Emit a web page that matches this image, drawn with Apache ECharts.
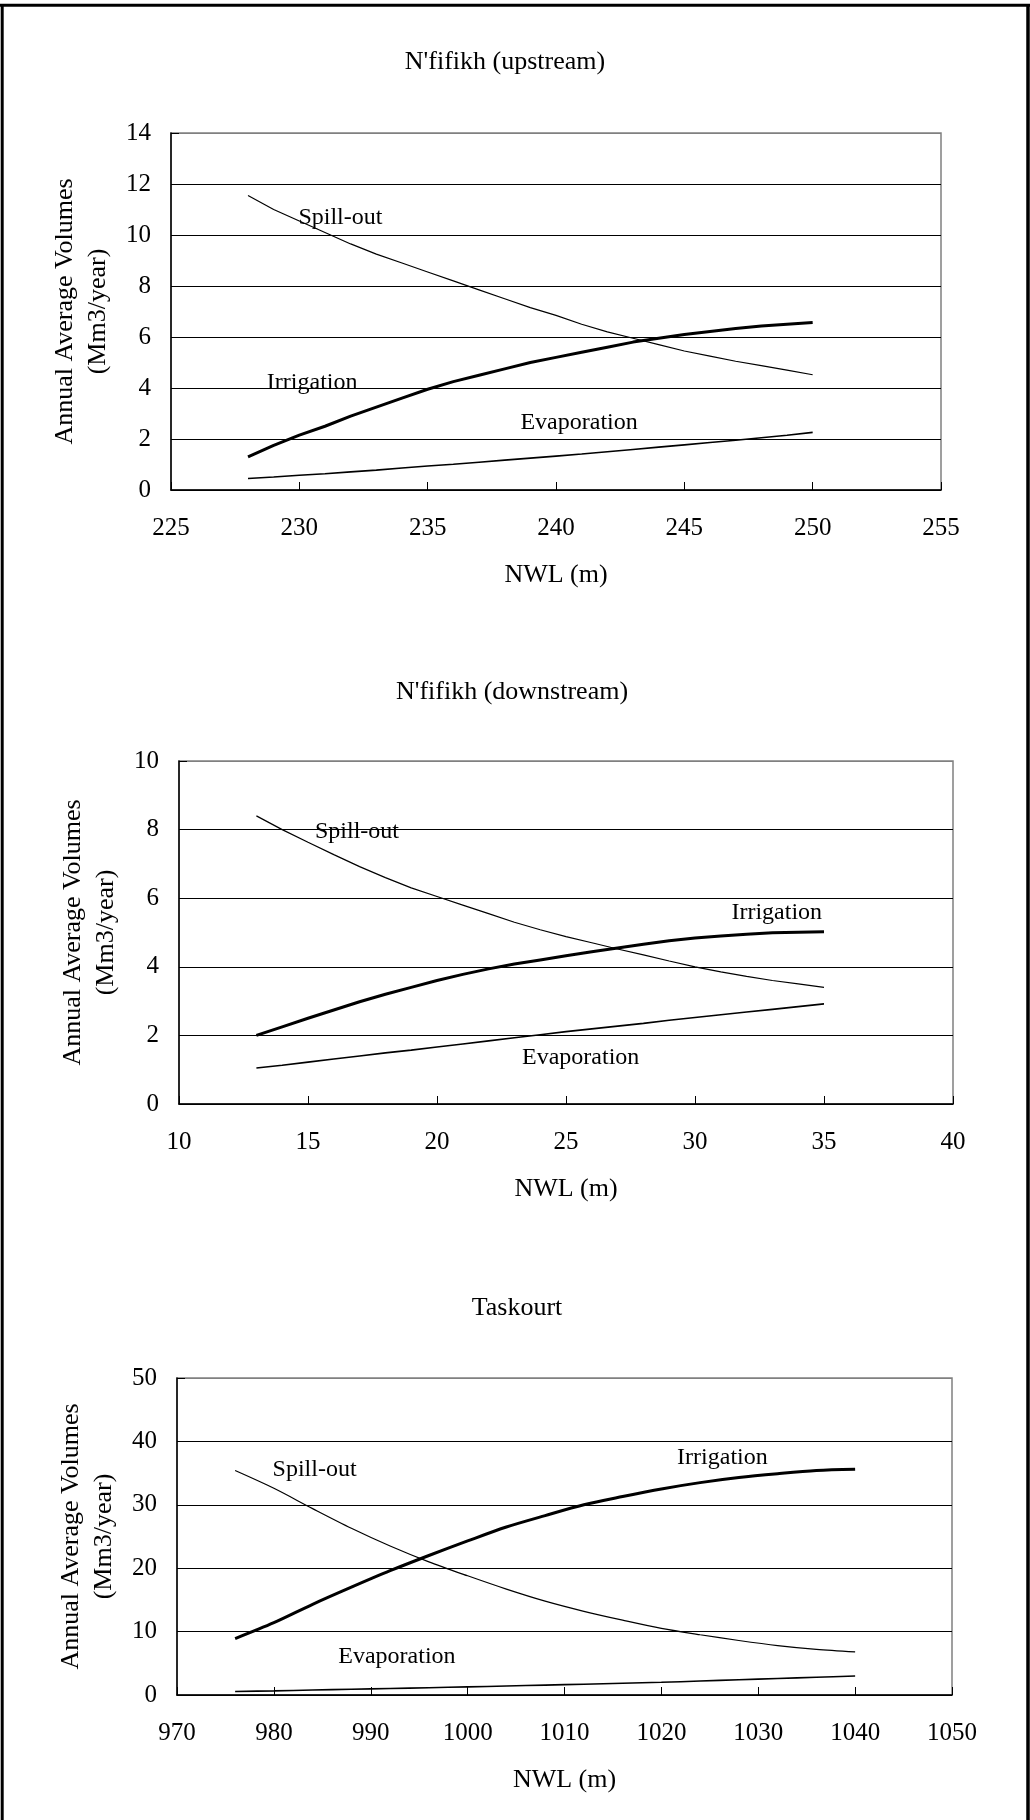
<!DOCTYPE html>
<html>
<head>
<meta charset="utf-8">
<script src="https://cdn.jsdelivr.net/npm/echarts@6/dist/echarts.min.js"></script>
<style>
html,body{margin:0;padding:0;background:#fff;}
#c{width:1030px;height:1820px;}
</style>
</head>
<body>
<div id="c"></div>
<script>
// ---------- Data ----------
const titles = ["N'fifikh (upstream)", "N'fifikh (downstream)", "Taskourt"];

// N'fifikh (upstream)
const upNWL   = [228,229,230,231,232,233,234,235,236,237,238,239,240,241,242,243,244,245,246,247,248,249,250];
const upSpill = [11.55,11.0,10.55,10.1,9.65,9.25,8.9,8.55,8.2,7.85,7.5,7.15,6.85,6.5,6.2,5.95,5.7,5.45,5.25,5.05,4.88,4.7,4.52];
const upIrr   = [1.3,1.75,2.15,2.5,2.9,3.25,3.6,3.95,4.25,4.5,4.75,5.0,5.2,5.4,5.6,5.8,5.95,6.1,6.22,6.33,6.43,6.5,6.57];
const upEvap  = [0.45,0.51,0.58,0.64,0.71,0.78,0.86,0.94,1.01,1.09,1.17,1.25,1.33,1.41,1.5,1.59,1.68,1.77,1.86,1.95,2.05,2.15,2.26];

// N'fifikh (downstream)
const dnNWL   = [13,14,15,16,17,18,19,20,21,22,23,24,25,26,27,28,29,30,31,32,33,34,35];
const dnSpill = [8.4,8.0,7.63,7.27,6.92,6.6,6.3,6.05,5.8,5.55,5.3,5.08,4.88,4.7,4.52,4.35,4.17,4.0,3.85,3.72,3.6,3.5,3.4];
const dnIrr   = [2.0,2.25,2.5,2.74,2.98,3.2,3.4,3.6,3.78,3.94,4.08,4.2,4.32,4.44,4.55,4.66,4.76,4.84,4.9,4.95,4.99,5.01,5.02];
const dnEvap  = [1.05,1.13,1.22,1.31,1.4,1.49,1.57,1.66,1.75,1.84,1.93,2.02,2.11,2.19,2.27,2.35,2.44,2.52,2.6,2.68,2.76,2.84,2.92];

// Taskourt
const tkNWL   = [976,980,984,988,992,996,1000,1004,1008,1012,1016,1020,1024,1028,1032,1036,1040];
const tkSpill = [35.4,32.6,29.4,26.3,23.5,21.0,18.8,16.7,14.8,13.2,11.8,10.5,9.5,8.6,7.8,7.2,6.8];
const tkIrr   = [8.9,11.4,14.3,17.0,19.6,22.0,24.3,26.5,28.3,30.0,31.3,32.5,33.5,34.3,34.9,35.4,35.6];
const tkEvap  = [0.55,0.65,0.78,0.9,1.02,1.15,1.28,1.42,1.56,1.7,1.85,2.0,2.2,2.4,2.6,2.8,3.0];

// Axis ranges / ticks
const xMin = [225, 10, 970], xMax = [255, 40, 1050], xStep = [5, 5, 10];
const yMin = [0, 0, 0],      yMax = [14, 10, 50],    yStep = [2, 2, 10];

// In-chart labels [NWL, volume, text]
const upLabels = [[231.6,10.67,'Spill-out'],[230.5,4.2,'Irrigation'],[240.9,2.63,'Evaporation']];
const dnLabels = [[16.9,7.93,'Spill-out'],[33.17,5.58,'Irrigation'],[25.57,1.35,'Evaporation']];
const tkLabels = [[984.2,35.6,'Spill-out'],[1026.3,37.5,'Irrigation'],[992.7,6.1,'Evaporation']];

// ---------- Layout ----------
const FONT = '"Liberation Serif", "Times New Roman", serif';
const grids = [
  {left:171, top:133, width:770, height:357},
  {left:179, top:761, width:774, height:343},
  {left:177, top:1378, width:775, height:317}
];
const titlePos = [[505,62],[512,692],[517,1308]];

const sets = [
  {x: upNWL, s: upSpill, i: upIrr, e: upEvap, lab: upLabels},
  {x: dnNWL, s: dnSpill, i: dnIrr, e: dnEvap, lab: dnLabels},
  {x: tkNWL, s: tkSpill, i: tkIrr, e: tkEvap, lab: tkLabels}
];

function pairs(xs, ys){ return xs.map((x,k)=>[x, ys[k]]); }

const xAxes = [], yAxes = [], series = [], graphics = [];
grids.forEach((g, k) => {
  g.show = true; g.borderColor = '#808080'; g.borderWidth = 1.5; g.backgroundColor = 'transparent';
  xAxes.push({
    gridIndex:k, type:'value', min:xMin[k], max:xMax[k], interval:xStep[k],
    name:'NWL (m)', nameLocation:'middle', nameGap:72,
    nameTextStyle:{fontFamily:FONT, fontSize:26, color:'#000'},
    axisLine:{show:true, onZero:false, lineStyle:{color:'#000', width:1.5}},
    axisTick:{show:true, inside:true, length:8, lineStyle:{color:'#000', width:1}},
    axisLabel:{fontFamily:FONT, fontSize:25, color:'#000', margin:26, formatter: v => String(v)},
    splitLine:{show:false}
  });
  const nTicks = Math.round((yMax[k]-yMin[k])/yStep[k]) + 1;
  const cols = []; for (let t=0;t<nTicks;t++) cols.push(t===nTicks-1 ? '#808080' : '#000');
  yAxes.push({
    gridIndex:k, type:'value', min:yMin[k], max:yMax[k], interval:yStep[k],
    name:'Annual Average Volumes\n(Mm3/year)', nameLocation:'middle', nameRotate:90, nameGap:54,
    nameTextStyle:{fontFamily:FONT, fontSize:26, lineHeight:33, color:'#000'},
    axisLine:{show:true, lineStyle:{color:'#000', width:1.5}},
    axisTick:{show:true, inside:true, length:8, lineStyle:{color:'#000', width:1}},
    axisLabel:{fontFamily:FONT, fontSize:25, color:'#000', margin:20, formatter: v => String(v)},
    splitLine:{show:true, lineStyle:{color:cols, width:1.2}}
  });
  const d = sets[k];
  const smooth = k === 2 ? 0.3 : false;
  series.push({type:'line', name:'Spill-out', xAxisIndex:k, yAxisIndex:k, data:pairs(d.x,d.s), showSymbol:false, smooth, lineStyle:{color:'#000', width:1.2}, z:3});
  series.push({type:'line', name:'Irrigation', xAxisIndex:k, yAxisIndex:k, data:pairs(d.x,d.i), showSymbol:false, smooth, lineStyle:{color:'#000', width:3}, z:4});
  series.push({type:'line', name:'Evaporation', xAxisIndex:k, yAxisIndex:k, data:pairs(d.x,d.e), showSymbol:false, smooth, lineStyle:{color:'#000', width:1.6}, z:3});
  series.push({type:'scatter', xAxisIndex:k, yAxisIndex:k, data:d.lab, symbolSize:1,
    itemStyle:{color:'transparent'}, silent:true, z:5,
    label:{show:true, position:'inside', formatter:p=>p.value[2], fontFamily:FONT, fontSize:24,
      color:'#000', textBorderWidth:0, textBorderColor:'transparent', opacity:1}});
  graphics.push({type:'text', x:titlePos[k][0], y:titlePos[k][1], silent:true,
    style:{text:titles[k], font:'26px ' + FONT, fill:'#000', align:'center', verticalAlign:'middle', textAlign:'center', textVerticalAlign:'middle'}});
});

// outer frame (top, left, right)
graphics.push({type:'line', silent:true, shape:{x1:0,y1:5.3,x2:1030,y2:5.3}, style:{stroke:'#000', lineWidth:3}});
graphics.push({type:'line', silent:true, shape:{x1:2.2,y1:4,x2:2.2,y2:1820}, style:{stroke:'#000', lineWidth:3}});
graphics.push({type:'line', silent:true, shape:{x1:1028,y1:4,x2:1028,y2:1820}, style:{stroke:'#000', lineWidth:3.5}});

const chart = echarts.init(document.getElementById('c'), null, {renderer:'canvas'});
chart.setOption({
  animation:false,
  backgroundColor:'#fff',
  grid:grids,
  xAxis:xAxes,
  yAxis:yAxes,
  series:series,
  graphic:graphics
});
</script>
</body>
</html>
